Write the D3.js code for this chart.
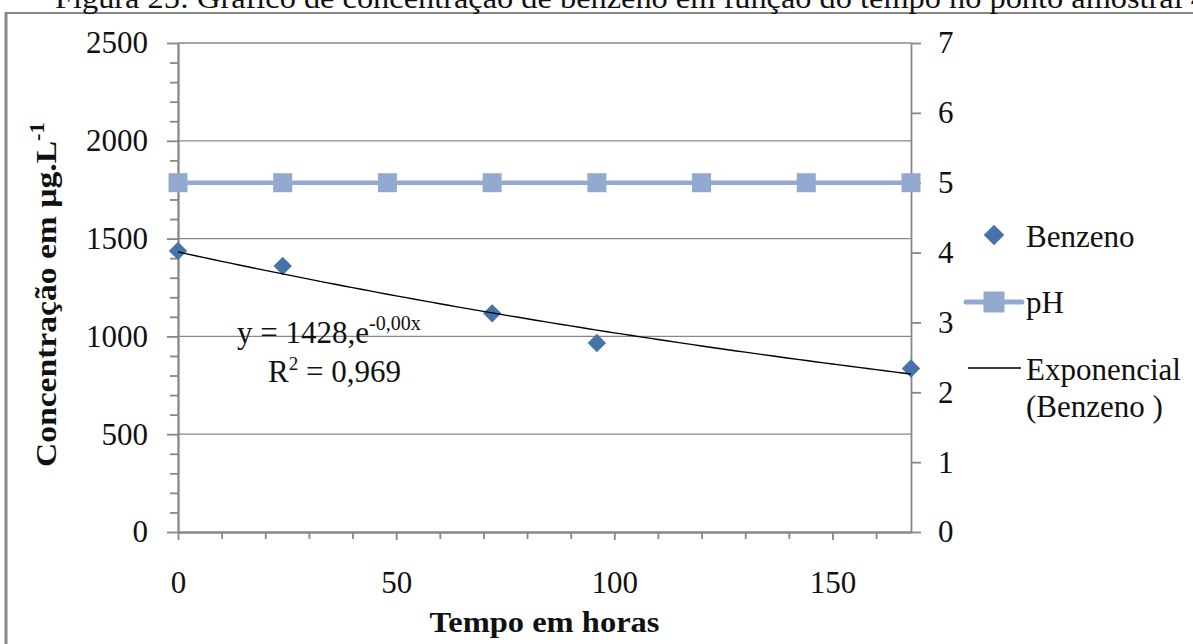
<!DOCTYPE html>
<html>
<head>
<meta charset="utf-8">
<script src="https://cdn.jsdelivr.net/npm/d3@7"></script>
<style>
  html, body { margin: 0; padding: 0; background: #fff; }
  svg { display: block; }
  text { font-family: "Liberation Serif", "Times New Roman", serif; fill: #111; }
</style>
</head>
<body>
<svg id="chart" width="1193" height="644"></svg>
<script>
// ---------------- data ----------------
const captionText = "Figura 25: Gráfico de concentração de benzeno em função do tempo no ponto amostral 4";
const phHours = [0, 24, 48, 72, 96, 120, 144, 168];
const phValues = [5, 5, 5, 5, 5, 5, 5, 5];
const benzHours = [0, 24, 72, 96, 168];
const benzValues = [1437, 1360, 1118, 966, 836];
const xMajorTicks = [0, 50, 100, 150];
const xMinorTicks = [10, 20, 30, 40, 60, 70, 80, 90, 110, 120, 130, 140, 160];
const yLeftMajorTicks = [0, 500, 1000, 1500, 2000, 2500];
const yLeftMinorTicks = d3.range(100, 2500, 100).filter(v => v % 500 !== 0);
const yRightTicks = [0, 1, 2, 3, 4, 5, 6, 7];
const legendLabels = ["Benzeno", "pH", "Exponencial", "(Benzeno )"];
const eqMain = "y = 1428,e";
const eqExp = "-0,00x";
const r2Value = "= 0,969";

// ---------------- layout ----------------
const svg = d3.select("#chart");
const gray = "#878787";
const phColor = "#93A9CF";
const benzColor = "#4673A9";
const fontSize = 31;
const fmt = d3.format("d");

const x = d3.scaleLinear().domain([0, 168]).range([178, 911]);
const yL = d3.scaleLinear().domain([0, 2500]).range([532, 43]);
const yR = d3.scaleLinear().domain([0, 7]).range([532, 43]);

// frame of the figure
svg.append("line").attr("x1", 6).attr("x2", 6).attr("y1", 12).attr("y2", 644)
  .attr("stroke", gray).attr("stroke-width", 3);
svg.append("line").attr("x1", 5).attr("x2", 1193).attr("y1", 13).attr("y2", 13)
  .attr("stroke", gray).attr("stroke-width", 2);

// caption, clipped at the top of the page (as in the reference)
svg.append("text").attr("x", 55).attr("y", 8)
  .attr("font-size", 30)
  .attr("textLength", 1152).attr("lengthAdjust", "spacingAndGlyphs")
  .text(captionText);

// gridlines
svg.append("g").selectAll("line").data(yLeftMajorTicks.filter(v => v > 0)).join("line")
  .attr("x1", x.range()[0]).attr("x2", x.range()[1])
  .attr("y1", d => yL(d)).attr("y2", d => yL(d))
  .attr("stroke", gray).attr("stroke-width", 1.3);

function styleAxis(g) {
  g.selectAll("path.domain").attr("stroke", gray).attr("stroke-width", 1.8);
  g.selectAll(".tick line").attr("stroke", gray).attr("stroke-width", 1.8);
  g.selectAll("text").attr("font-family", "Liberation Serif, Times New Roman, serif")
    .attr("font-size", fontSize).attr("fill", "#111");
}

// left axis
const gLminor = svg.append("g").attr("transform", `translate(${x.range()[0]},0)`)
  .call(d3.axisLeft(yL).tickValues(yLeftMinorTicks).tickSize(8).tickSizeOuter(0).tickFormat(""));
styleAxis(gLminor);
const gL = svg.append("g").attr("transform", `translate(${x.range()[0]},0)`)
  .call(d3.axisLeft(yL).tickValues(yLeftMajorTicks).tickSize(11).tickSizeOuter(0).tickPadding(19).tickFormat(fmt));
styleAxis(gL);

// right axis
const gR = svg.append("g").attr("transform", `translate(${x.range()[1]},0)`)
  .call(d3.axisRight(yR).tickValues(yRightTicks).tickSize(10).tickSizeOuter(0).tickPadding(17).tickFormat(fmt));
styleAxis(gR);

// bottom axis
const gXminor = svg.append("g").attr("transform", `translate(0,${yL(0)})`)
  .call(d3.axisBottom(x).tickValues(xMinorTicks).tickSize(7).tickSizeOuter(0).tickFormat(""));
styleAxis(gXminor);
const gX = svg.append("g").attr("transform", `translate(0,${yL(0)})`)
  .call(d3.axisBottom(x).tickValues(xMajorTicks).tickSize(8).tickSizeOuter(0).tickPadding(31).tickFormat(fmt));
styleAxis(gX);

// axis titles
function fitText(sel, target) {
  const w = sel.node().getComputedTextLength();
  return target / w;
}
const yTitleG = svg.append("g");
const yTitle = yTitleG.append("text")
  .attr("font-size", 30).attr("font-weight", "bold").attr("text-anchor", "start");
yTitle.append("tspan").text("Concentração em µg.L");
yTitle.append("tspan").attr("font-size", 20).attr("dy", -12).text("-1");
const ys = fitText(yTitle, 345);
yTitleG.attr("transform", `translate(56,467) rotate(-90) scale(${ys},1)`);

const xTitleG = svg.append("g");
const xTitle = xTitleG.append("text").attr("font-size", 29).attr("font-weight", "bold")
  .attr("text-anchor", "middle").text("Tempo em horas");
const xs = fitText(xTitle, 230);
xTitleG.attr("transform", `translate(${(x.range()[0] + x.range()[1]) / 2},632) scale(${xs},1)`);

// pH series
const phData = phHours.map((h, i) => ({ h, v: phValues[i] }));
svg.append("path").datum(phData)
  .attr("d", d3.line().x(d => x(d.h)).y(d => yR(d.v)))
  .attr("fill", "none").attr("stroke", phColor).attr("stroke-width", 4.5);
svg.append("g").selectAll("path").data(phData).join("path")
  .attr("transform", d => `translate(${x(d.h)},${yR(d.v)})`)
  .attr("d", d3.symbol(d3.symbolSquare, 19 * 19)())
  .attr("fill", phColor);

// benzene series
const benzData = benzHours.map((h, i) => ({ h, v: benzValues[i] }));
const diamond = d3.symbol(d3.symbolSquare, 13 * 13)();
svg.append("g").selectAll("path").data(benzData).join("path")
  .attr("transform", d => `translate(${x(d.h)},${yL(d.v)}) rotate(45)`)
  .attr("d", diamond)
  .attr("fill", benzColor);

// exponential trendline (least-squares fit on ln y)
const lnV = benzValues.map(Math.log);
const mx = d3.mean(benzHours), my = d3.mean(lnV);
const b = d3.sum(benzHours, (h, i) => (h - mx) * (lnV[i] - my)) / d3.sum(benzHours, h => (h - mx) ** 2);
const a = Math.exp(my - b * mx);
const trendX = d3.range(0, 168.01, 2);
svg.append("path").datum(trendX)
  .attr("d", d3.line().x(h => x(h)).y(h => yL(a * Math.exp(b * h))))
  .attr("fill", "none").attr("stroke", "#000").attr("stroke-width", 1.4);

// equation text
const eq = svg.append("text").attr("x", 237).attr("y", 343).attr("font-size", fontSize);
eq.append("tspan").text(eqMain);
eq.append("tspan").attr("font-size", 20).attr("dy", -13).text(eqExp);
const r2 = svg.append("text").attr("x", 268).attr("y", 382).attr("font-size", fontSize);
r2.append("tspan").text("R");
r2.append("tspan").attr("font-size", 19).attr("dy", -12).text("2");
r2.append("tspan").attr("dy", 12).text(" " + r2Value);

// legend
const lg = svg.append("g");
lg.append("path").attr("transform", "translate(994,235) rotate(45)")
  .attr("d", d3.symbol(d3.symbolSquare, 14.5 * 14.5)()).attr("fill", benzColor);
lg.append("text").attr("x", 1026).attr("y", 247).attr("font-size", fontSize).text(legendLabels[0]);

lg.append("line").attr("x1", 966).attr("x2", 1022).attr("y1", 302).attr("y2", 302)
  .attr("stroke", phColor).attr("stroke-width", 5).attr("stroke-linecap", "round");
lg.append("path").attr("transform", "translate(994,302)")
  .attr("d", d3.symbol(d3.symbolSquare, 21 * 21)()).attr("fill", phColor);
lg.append("text").attr("x", 1026).attr("y", 313).attr("font-size", fontSize).text(legendLabels[1]);

lg.append("line").attr("x1", 968).attr("x2", 1021).attr("y1", 368).attr("y2", 368)
  .attr("stroke", "#000").attr("stroke-width", 1.4);
lg.append("text").attr("x", 1026).attr("y", 380).attr("font-size", fontSize).text(legendLabels[2]);
lg.append("text").attr("x", 1026).attr("y", 417).attr("font-size", fontSize).text(legendLabels[3]);
</script>
</body>
</html>
